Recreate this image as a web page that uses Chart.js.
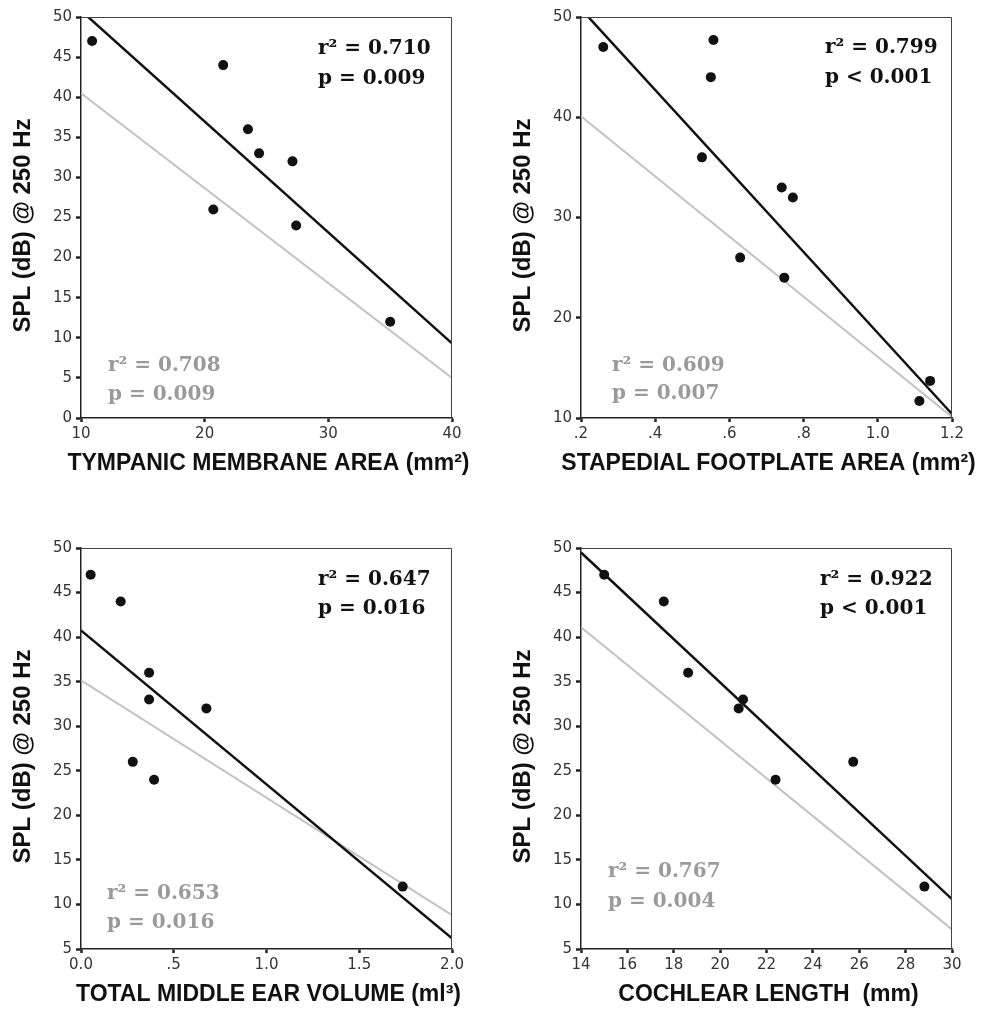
<!DOCTYPE html>
<html>
<head>
<meta charset="utf-8">
<script src="https://cdn.jsdelivr.net/npm/chart.js@4.4.1/dist/chart.umd.min.js"></script>
<style>
  body { margin: 0; background: #fff; }
  #page { position: relative; width: 990px; height: 1010px; overflow: hidden; background: #fff; }
  .panel { position: absolute; width: 495px; height: 479px; }
</style>
</head>
<body>
<div id="page">
  <div class="panel" style="left:0;top:0"><canvas id="chartTympanic" width="495" height="479"></canvas></div>
  <div class="panel" style="left:500px;top:0"><canvas id="chartStapedial" width="495" height="479"></canvas></div>
  <div class="panel" style="left:0;top:531px"><canvas id="chartVolume" width="495" height="479"></canvas></div>
  <div class="panel" style="left:500px;top:531px"><canvas id="chartCochlear" width="495" height="479"></canvas></div>
</div>
<script>
// --- data ---
const yTitle = 'SPL (dB) @ 250 Hz';

// tympanic membrane area (mm2) vs SPL
const tympanicArea = [10.9, 21.5, 23.5, 24.4, 27.1, 20.7, 27.4, 35.0];
const tympanicSpl = [47, 44, 36, 33, 32, 26, 24, 12];
const tympanicFitX = [10, 40];
const tympanicFitBlack = [50.8, 9.3];
const tympanicFitGray = [40.5, 5.0];
const tympanicStatsBlack = ['r\u00B2 = 0.710', 'p = 0.009'];
const tympanicStatsGray = ['r\u00B2 = 0.708', 'p = 0.009'];

// stapedial footplate area (mm2) vs SPL
const stapedialArea = [0.26, 0.557, 0.55, 0.526, 0.741, 0.771, 0.629, 0.748, 1.112, 1.141];
const stapedialSpl = [47, 47.7, 44, 36, 33, 32, 26, 24, 11.7, 13.7];
const stapedialFitX = [0.2, 1.2];
const stapedialFitBlack = [50.8, 10.4];
const stapedialFitGray = [40.1, 10.1];
const stapedialStatsBlack = ['r\u00B2 = 0.799', 'p < 0.001'];
const stapedialStatsGray = ['r\u00B2 = 0.609', 'p = 0.007'];

// total middle ear volume (ml3) vs SPL
const volume = [0.052, 0.214, 0.367, 0.367, 0.676, 0.279, 0.394, 1.734];
const volumeSpl = [47, 44, 36, 33, 32, 26, 24, 12];
const volumeFitX = [0, 2];
const volumeFitBlack = [40.75, 6.2];
const volumeFitGray = [35.15, 8.8];
const volumeStatsBlack = ['r\u00B2 = 0.647', 'p = 0.016'];
const volumeStatsGray = ['r\u00B2 = 0.653', 'p = 0.016'];

// cochlear length (mm) vs SPL
const cochlearLength = [15.0, 17.57, 18.62, 20.80, 20.99, 22.39, 25.74, 28.81];
const cochlearSpl = [47, 44, 36, 32, 33, 24, 26, 12];
const cochlearFitX = [14, 30];
const cochlearFitBlack = [49.5, 10.6];
const cochlearFitGray = [41.1, 7.2];
const cochlearStatsBlack = ['r\u00B2 = 0.922', 'p < 0.001'];
const cochlearStatsGray = ['r\u00B2 = 0.767', 'p = 0.004'];

// --- helpers ---
function toPoints(xs, ys) {
  return xs.map((x, i) => ({ x: x, y: ys[i] }));
}

function decimalLabel(v) {
  // SPSS style: ".5" instead of "0.5"
  const s = Number(v).toFixed(1);
  return s.startsWith('0.') && Number(v) !== 0 ? s.slice(1) : s;
}

// frame on top/right, axis titles and r2/p texts
// (titles drawn here because the x titles are wider than the plot box)
const panelDecor = {
  id: 'panelDecor',
  afterDraw(chart, args, opts) {
    const { ctx, chartArea: a } = chart;
    ctx.save();
    ctx.strokeStyle = '#444';
    ctx.lineWidth = 1;
    ctx.beginPath();
    ctx.moveTo(a.left, a.top + 0.5);
    ctx.lineTo(a.right - 0.5, a.top + 0.5);
    ctx.lineTo(a.right - 0.5, a.bottom);
    ctx.stroke();

    // axis titles
    ctx.fillStyle = '#111';
    ctx.textAlign = 'center';
    ctx.textBaseline = 'middle';
    ctx.font = 'bold 23px "Liberation Sans", Arial';
    ctx.fillText(opts.xTitle, (a.left + a.right) / 2 + 2, a.bottom + 46);
    ctx.save();
    ctx.translate(23, (a.top + a.bottom) / 2 + 8);
    ctx.rotate(-Math.PI / 2);
    ctx.font = 'bold 24px "Liberation Sans", Arial';
    ctx.fillText(yTitle, 0, 0);
    ctx.restore();

    // regression stats
    ctx.font = 'bold 20px "DejaVu Serif"';
    ctx.textAlign = 'left';
    ctx.fillStyle = '#111';
    ctx.fillText(opts.black[0], a.left + opts.blackX, a.top + opts.blackY[0]);
    ctx.fillText(opts.black[1], a.left + opts.blackX, a.top + opts.blackY[1]);
    ctx.fillStyle = '#9a9a9a';
    ctx.fillText(opts.gray[0], a.left + opts.grayX, a.bottom + opts.grayY[0]);
    ctx.fillText(opts.gray[1], a.left + opts.grayX, a.bottom + opts.grayY[1]);
    ctx.restore();
  }
};

function axisStyle(min, max, step, fmt, isX) {
  return {
    type: 'linear',
    min: min,
    max: max,
    ticks: {
      stepSize: step,
      color: '#333',
      font: { family: '"DejaVu Sans"', size: 15 },
      padding: isX ? 3 : 4,
      maxRotation: 0,
      autoSkip: false,
      callback: fmt
    },
    grid: {
      drawOnChartArea: false,
      drawTicks: true,
      tickLength: isX ? 4 : 5,
      tickWidth: 2.5,
      tickColor: '#222'
    },
    border: { display: true, color: '#222', width: 1.5 },
    title: { display: false },
    afterFit(scale) {
      if (isX) scale.height = 61; else scale.width = 81;
    }
  };
}

function makePanel(id, cfg) {
  const ctx = document.getElementById(id).getContext('2d');
  return new Chart(ctx, {
    type: 'scatter',
    data: {
      datasets: [
        { data: toPoints(cfg.x, cfg.y), pointRadius: 5, pointHoverRadius: 5,
          backgroundColor: '#111', borderWidth: 0, order: 0 },
        { type: 'line', data: toPoints(cfg.fitX, cfg.fitBlack), borderColor: '#111',
          borderWidth: 2.5, pointRadius: 0, fill: false, order: 1 },
        { type: 'line', data: toPoints(cfg.fitX, cfg.fitGray), borderColor: '#c2c2c2',
          borderWidth: 2, pointRadius: 0, fill: false, order: 2 }
      ]
    },
    options: {
      responsive: false,
      animation: false,
      layout: { padding: { top: 17, right: 43, left: 0, bottom: 0 } },
      scales: {
        x: axisStyle(cfg.xMin, cfg.xMax, cfg.xStep, cfg.xFmt, true),
        y: axisStyle(cfg.yMin, 50, cfg.yStep, v => v, false)
      },
      plugins: {
        legend: { display: false },
        tooltip: { enabled: false },
        panelDecor: cfg.decor
      }
    },
    plugins: [panelDecor]
  });
}

// --- build the four panels ---
makePanel('chartTympanic', {
  x: tympanicArea, y: tympanicSpl, fitX: tympanicFitX,
  fitBlack: tympanicFitBlack, fitGray: tympanicFitGray,
  xMin: 10, xMax: 40, xStep: 10, yMin: 0, yStep: 5, xFmt: v => v,
  decor: { xTitle: 'TYMPANIC MEMBRANE AREA (mm\u00B2)',
    black: tympanicStatsBlack, gray: tympanicStatsGray,
    blackX: 237, blackY: [32, 62], grayX: 27, grayY: [-52.5, -23.5] }
});

makePanel('chartStapedial', {
  x: stapedialArea, y: stapedialSpl, fitX: stapedialFitX,
  fitBlack: stapedialFitBlack, fitGray: stapedialFitGray,
  xMin: 0.2, xMax: 1.2, xStep: 0.2, yMin: 10, yStep: 10, xFmt: decimalLabel,
  decor: { xTitle: 'STAPEDIAL FOOTPLATE AREA (mm\u00B2)',
    black: stapedialStatsBlack, gray: stapedialStatsGray,
    blackX: 244, blackY: [30.5, 60.5], grayX: 31, grayY: [-52, -24] }
});

makePanel('chartVolume', {
  x: volume, y: volumeSpl, fitX: volumeFitX,
  fitBlack: volumeFitBlack, fitGray: volumeFitGray,
  xMin: 0, xMax: 2, xStep: 0.5, yMin: 5, yStep: 5, xFmt: decimalLabel,
  decor: { xTitle: 'TOTAL MIDDLE EAR VOLUME (ml\u00B3)',
    black: volumeStatsBlack, gray: volumeStatsGray,
    blackX: 237, blackY: [31.5, 61], grayX: 26, grayY: [-55, -26] }
});

makePanel('chartCochlear', {
  x: cochlearLength, y: cochlearSpl, fitX: cochlearFitX,
  fitBlack: cochlearFitBlack, fitGray: cochlearFitGray,
  xMin: 14, xMax: 30, xStep: 2, yMin: 5, yStep: 5, xFmt: v => v,
  decor: { xTitle: 'COCHLEAR LENGTH  (mm)',
    black: cochlearStatsBlack, gray: cochlearStatsGray,
    blackX: 239, blackY: [31.5, 61], grayX: 27, grayY: [-77, -47] }
});
</script>
</body>
</html>
